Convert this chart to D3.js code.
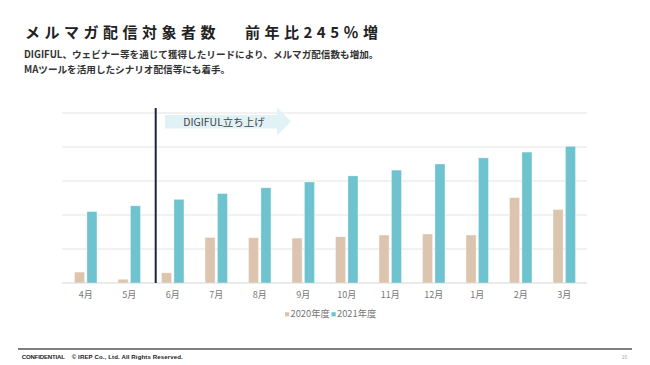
<!DOCTYPE html>
<html><head><meta charset="utf-8">
<script src="https://cdn.jsdelivr.net/npm/d3@7/dist/d3.min.js"></script>
<style>
html,body{margin:0;padding:0;background:#fff;}
svg{display:block;font-family:"Noto Sans CJK JP","Noto Sans",sans-serif;}
</style></head><body>
<script>
const categories = ["4月","5月","6月","7月","8月","9月","10月","11月","12月","1月","2月","3月"];
const seriesNames = ["2020年度","2021年度"];
const values2020 = [0.32,0.11,0.30,1.34,1.33,1.32,1.36,1.41,1.44,1.41,2.51,2.16];
const values2021 = [2.10,2.27,2.46,2.63,2.80,2.97,3.15,3.32,3.50,3.68,3.85,4.02];
const gridTicks = [0,1,2,3,4,5];
const colors = ["#dcc5ae","#6fc3cf"];

const W=650,H=365;
const svg=d3.select("body").append("svg").attr("width",W).attr("height",H);

// title
svg.append("text").attr("x",25).attr("y",37.5).attr("font-size",15).attr("font-weight",700)
  .attr("letter-spacing",4.5).attr("fill","#222").text("メルマガ配信対象者数");
svg.append("text").attr("x",245).attr("y",37.5).attr("font-size",15).attr("font-weight",700)
  .attr("letter-spacing",4.5).attr("fill","#222").text("前年比245％増");
svg.append("text").attr("x",24).attr("y",58).attr("font-size",9.6).attr("font-weight",700)
  .attr("fill","#333").text("DIGIFUL、ウェビナー等を通じて獲得したリードにより、メルマガ配信数も増加。");
svg.append("text").attr("x",24).attr("y",73).attr("font-size",9.6).attr("font-weight",700)
  .attr("fill","#333").text("MAツールを活用したシナリオ配信等にも着手。");

const m={l:64,r:586,t:113,b:283};
const x=d3.scaleBand().domain(categories).range([m.l,m.r]);
const y=d3.scaleLinear().domain([0,5]).range([m.b,m.t]);

// grid
svg.append("g").selectAll("line").data(gridTicks).join("line")
  .attr("x1",62).attr("x2",587).attr("y1",d=>y(d)).attr("y2",d=>y(d))
  .attr("stroke",d=>d===0?"#d6d6d6":"#e3e3e3").attr("stroke-width",1.2);

const bw=10, gap=2.4;
const sub=[values2020,values2021];
sub.forEach((vals,si)=>{
  svg.append("g").selectAll("rect").data(vals).join("rect")
    .attr("x",(d,i)=>x(categories[i])+x.bandwidth()/2 + (si===0? -gap/2-bw : gap/2))
    .attr("y",d=>y(d)).attr("width",bw).attr("height",d=>y(0)-y(d))
    .attr("fill",colors[si]).attr("stroke","rgba(255,255,255,0.5)").attr("stroke-width",0.6);
});

// x axis labels
const xa=d3.axisBottom(x).tickSize(0).tickPadding(9);
const gx=svg.append("g").attr("transform",`translate(0,${m.b})`).call(xa);
gx.select(".domain").remove();
gx.selectAll("text").attr("font-size",9).attr("fill","#777")
  .attr("font-family","\"Noto Sans CJK JP\",sans-serif");

// vertical marker line just before 6月
const vx=x("6月")+4.7;
svg.append("line").attr("x1",vx).attr("x2",vx).attr("y1",108).attr("y2",m.b)
  .attr("stroke","#1b2140").attr("stroke-width",2);

// arrow
svg.append("path").attr("d","M165,115 L277,115 L277,107.5 L291,121.5 L277,135.5 L277,128.5 L165,128.5 Z")
  .attr("fill","#e1f2f6");
svg.append("text").attr("x",224).attr("y",125.5).attr("text-anchor","middle").attr("font-size",10.5)
  .attr("fill","#444").text("DIGIFUL立ち上げ");

// legend
const lg=svg.append("g").attr("transform","translate(285,317)");
const items=[{n:seriesNames[0],c:colors[0],x:0},{n:seriesNames[1],c:colors[1],x:46.5}];
items.forEach(it=>{
  lg.append("rect").attr("x",it.x).attr("y",-4.8).attr("width",4.2).attr("height",4.2).attr("fill",it.c);
  lg.append("text").attr("x",it.x+5.5).attr("y",0).attr("font-size",9.3).attr("fill","#777").text(it.n);
});

// footer
svg.append("line").attr("x1",18).attr("x2",632).attr("y1",349).attr("y2",349).attr("stroke","#555").attr("stroke-width",1.6);
const ff="Arial,'Liberation Sans',sans-serif";
svg.append("text").attr("x",21.7).attr("y",359).attr("font-size",6.1).attr("font-weight",700)
  .attr("font-family",ff).attr("fill","#222").attr("textLength",43.3).text("CONFIDENTIAL");
svg.append("text").attr("x",71.7).attr("y",359).attr("font-size",6.1).attr("font-weight",700)
  .attr("font-family",ff).attr("fill","#222").attr("textLength",111).text("© IREP Co., Ltd. All Rights Reserved.");
svg.append("text").attr("x",624.5).attr("y",359).attr("text-anchor","middle").attr("font-size",5.5).attr("fill","#aaa").text("16");
</script>
</body></html>
